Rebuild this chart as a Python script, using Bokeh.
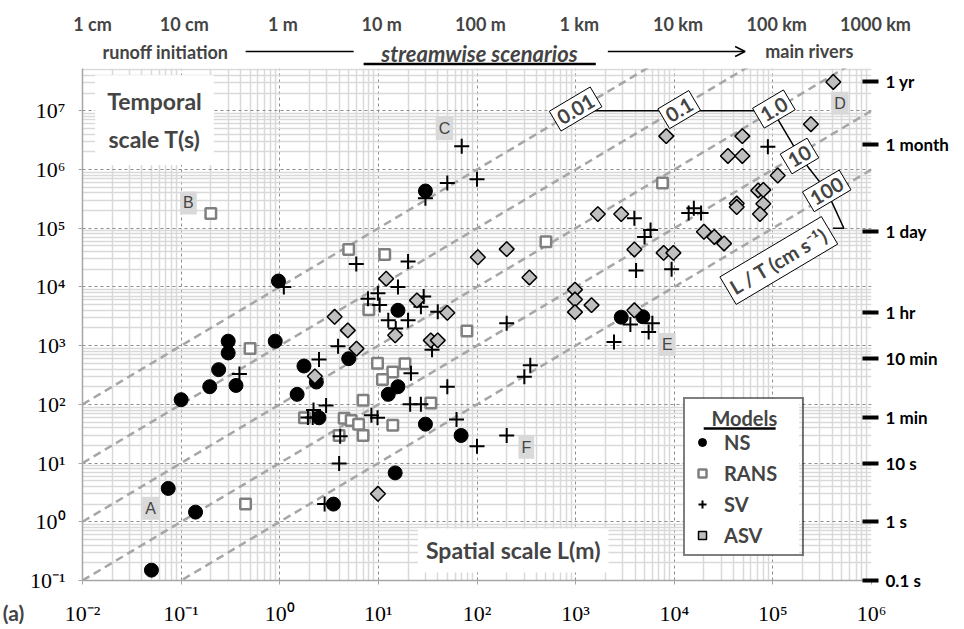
import numpy as np
from bokeh.plotting import figure
from bokeh.layouts import column, row
from bokeh.models import (FixedTicker, LogAxis, Label, Legend, LegendItem, Arrow,
                          OpenHead, Range1d)
from bokeh.embed import file_html
from bokeh.resources import INLINE

# ---------------- data (L in m, T in s) ----------------
ns_L = [0.05, 0.074, 0.14, 0.1, 0.195, 0.24, 0.30, 0.30, 0.36, 0.9, 0.97, 1.76, 1.5,
        2.35, 2.5, 3.5, 5.0, 15.8, 15.8, 12.6, 30, 69, 14.8, 30, 2900, 4800]
ns_T = [0.15, 3.7, 1.46, 120, 200, 390, 750, 1190, 210, 1190, 12600, 450, 148,
        240, 59, 2.0, 600, 4000, 200, 148, 46, 29.5, 6.8, 430000, 3050, 3100]

rans_L = [0.2, 0.5, 0.45, 1.78, 5.0, 11.6, 8.0, 79, 9.8, 14, 18.6, 11, 7, 34, 4.5,
          5.3, 6.3, 7, 4.0, 14, 500, 7600]
rans_T = [178000, 890, 2.0, 59, 43500, 35800, 4100, 1780, 500, 355, 490, 265, 118,
          105, 58, 53, 46, 29.5, 29.5, 44, 59000, 590000]

sv_L = [0.39, 2.5, 2.2, 1.93, 2.16, 2.95, 2.85, 1.1, 3.9, 5.97, 20, 15.8, 9.9, 7.85,
        10.3, 28.8, 27, 40, 12.6, 20, 15, 35, 21.4, 50, 21, 27, 62, 8.5, 9.8, 4.1,
        4.0, 100, 200, 302, 347, 2450, 70, 50, 100, 30, 200, 89000, 14000, 18700,
        15800, 3940, 5750, 5000, 4100, 9400, 3590, 6000, 5500]
sv_T = [330, 580, 80, 60, 60, 96, 2.0, 10000, 980, 24500, 27000, 10000, 7800, 6300,
        4900, 6900, 4600, 3760, 2700, 2700, 1960, 850, 340, 200, 100, 100, 55, 65,
        59, 28.5, 9.8, 19.3, 29.5, 295, 465, 1150, 2.5e6, 590000, 680000, 325000,
        2400, 2.45e6, 182000, 182000, 219000, 148000, 93000, 71000, 19000, 20000,
        2300, 2400, 1700]

asv_L = [2.27, 3.6, 12, 24.6, 50, 14.8, 4.9, 6, 34, 40, 102, 200, 340, 1680, 2900,
         985, 985, 985, 1450, 9.9, 410000, 243000, 49000, 35000, 49000, 8300,
         112000, 71000, 80000, 80000, 43000, 43000, 74000, 20000, 25500, 32000,
         3940, 7800, 9800, 3940]
asv_T = [300, 3100, 13800, 5900, 3620, 1500, 1820, 890, 1230, 1230, 32000, 44000,
         14500, 174000, 174000, 9000, 6100, 3720, 4900, 3.0, 3.1e7, 5.9e6, 3.7e6,
         1.7e6, 1.7e6, 3.7e6, 790000, 440000, 450000, 260000, 263000, 229000,
         174000, 87000, 71000, 55000, 43500, 38000, 38000, 4000]

# velocity reference lines L/T (cm/s)
speeds = [0.01, 0.1, 1.0, 10, 100]
speed_text = ["0.01", "0.1", "1.0", "10", "100"]

# axis ticks and labels
x_exp = list(range(-2, 7))
y_exp = list(range(-1, 8))
sup = str.maketrans("-0123456789", "⁻⁰¹²³⁴⁵⁶⁷⁸⁹")
top_labels = ["1 cm", "10 cm", "1 m", "10 m", "100 m", "1 km", "10 km", "100 km", "1000 km"]
time_ticks = [0.1, 1, 10, 60, 600, 3600, 86400, 2629800, 31557600]
time_labels = ["0.1 s", "1 s", "10 s", "1 min", "10 min", "1 hr", "1 day", "1 month", "1 yr"]

# annotation placements (log10 L, log10 T)
speed_pos = [(3.0, 7.03), (4.05, 7.02), (5.01, 7.03), (5.27, 6.23), (5.546, 5.636)]
lt_pos = (5.06, 4.45)
bracket_top = ([3.0, 5.0], [7.0, 7.0])
bracket_side = ([5.0, 5.27, 5.546, 5.72, 5.61], [7.0, 6.23, 5.636, 5.0, 5.0])
letters = ["A", "B", "C", "D", "E", "F"]
letter_pos = [(-1.31, 0.23), (-0.926, 5.43), (1.67, 6.70), (5.68, 7.13), (3.93, 3.02), (2.50, 1.27)]

# ---------------- layout constants (px) ----------------
FONT = "Lato"
W = 960
HDR_H = 68
BB = 48
FRAME_H = 512
MAIN_H = FRAME_H + BB
STRIP_W = 26
LB, RB = 55, 89
FRAME_L = STRIP_W + LB
FRAME_W = W - FRAME_L - RB
DEC = FRAME_W / 8.0
Y_TOP = 7.72
Y_BOT = -1.0
DEC_Y = FRAME_H / (Y_TOP - Y_BOT)
LEG_X, LEG_Y, LEG_W, LEG_H = 601, 24, 117, 159   # legend box (px from frame bottom-left)


def tk(k):
    return 10 ** k if k >= 0 else 10.0 ** k


def no_align(f):
    if "frame_align" in f.properties():
        f.frame_align = False


# ---------------- main plot ----------------
p = figure(width=W - STRIP_W, height=MAIN_H, x_axis_type="log", y_axis_type="log",
           x_range=Range1d(1e-2, 1e6), y_range=Range1d(10 ** Y_BOT, 10 ** Y_TOP),
           output_backend="svg", toolbar_location=None,
           min_border_left=LB, min_border_right=RB, min_border_top=0,
           min_border_bottom=BB)
p.outline_line_color = None
p.background_fill_color = "white"
no_align(p)

x_major = [tk(k) for k in x_exp]
x_minor = [m * 10.0 ** k for k in range(-2, 6) for m in range(2, 10)]
y_major = [tk(k) for k in y_exp]
y_minor = [m * 10.0 ** k for k in range(-1, 8) for m in range(2, 10)]
xt = FixedTicker(ticks=x_major, minor_ticks=x_minor)
yt = FixedTicker(ticks=y_major, minor_ticks=y_minor)

xa = p.xaxis[0]
ya = p.yaxis[0]
xa.ticker = xt
ya.ticker = yt
xa.major_label_overrides = {tk(k): "10" + str(k).translate(sup) for k in x_exp}
ya.major_label_overrides = {tk(k): "10" + str(k).translate(sup) for k in y_exp}
for ax in (xa, ya):
    ax.major_label_text_font = "Liberation Serif"
    ax.major_label_text_font_size = "22px"
    ax.major_label_text_color = "black"
    ax.axis_line_color = "#a6a6a6"
    ax.axis_line_width = 1.5
    ax.major_tick_line_color = "#a6a6a6"
    ax.major_tick_in = 0
    ax.major_tick_out = 4
    ax.minor_tick_line_color = None
xa.major_label_standoff = 16
ya.major_label_standoff = 13

for g, t in ((p.xgrid, xt), (p.ygrid, yt)):
    g.ticker = t
    g.grid_line_color = "#8c8c8c"
    g.grid_line_dash = "3 3"
    g.grid_line_width = 1
    g.minor_grid_line_color = "#d9d9d9"
    g.minor_grid_line_width = 1.5

ra = LogAxis(ticker=FixedTicker(ticks=time_ticks),
             major_label_overrides=dict(zip(time_ticks, time_labels)))
ra.axis_line_color = None
ra.minor_tick_line_color = None
ra.major_tick_line_color = "black"
ra.major_tick_line_width = 4
ra.major_tick_in = 9
ra.major_tick_out = 7
ra.major_label_standoff = 7
ra.major_label_text_font = FONT
ra.major_label_text_font_style = "bold"
ra.major_label_text_font_size = "17px"
ra.major_label_text_color = "black"
p.add_layout(ra, "right")

# velocity lines
Lline = np.array([1e-2, 1e6])
for v in speeds:
    p.line(Lline, 100.0 * Lline / v, line_dash="8 5", line_color="#a6a6a6", line_width=2.5)

# bracket for velocity labels
p.line([10 ** a for a in bracket_top[0]], [10 ** a for a in bracket_top[1]],
       line_color="black", line_width=1.5)
p.line([10 ** a for a in bracket_side[0]], [10 ** a for a in bracket_side[1]],
       line_color="black", line_width=1.5)

# white backing of the legend box and underline of its title (drawn beneath the legend)
leg_cx = 10 ** (-2 + (LEG_X + LEG_W / 2) / DEC)
leg_cy = 10 ** (Y_BOT + (LEG_Y + LEG_H / 2) / DEC_Y)
p.rect(x=[leg_cx], y=[leg_cy], width=[LEG_W - 1], height=[LEG_H - 2],
       width_units="screen", height_units="screen", fill_color="white", line_color=None)
ul_y = 10 ** (Y_BOT + (LEG_Y + LEG_H - 31) / DEC_Y)
p.line([10 ** (-2 + (LEG_X + 21) / DEC), 10 ** (-2 + (LEG_X + 93) / DEC)], [ul_y, ul_y],
       line_color="black", line_width=2.5)

# data
r_ns = p.scatter(ns_L, ns_T, marker="circle", size=14, fill_color="black", line_color="black")
r_rans = p.scatter(rans_L, rans_T, marker="square", size=10.5, fill_color="white",
                   line_color="#808080", line_width=2.5)
r_sv = p.scatter(sv_L, sv_T, marker="cross", size=15, line_color="black", line_width=2)
r_asv = p.scatter(asv_L, asv_T, marker="square", angle=np.pi / 4, size=10.5,
                  fill_color="#bfbfbf", line_color="black", line_width=1.5)

# velocity labels
ANG = 0.536
for txt, (lx, ly) in zip(speed_text, speed_pos):
    p.add_layout(Label(x=10 ** lx, y=10 ** ly, text=txt, angle=ANG, text_align="center",
                       text_baseline="middle", text_font=FONT, text_font_style="bold",
                       text_font_size="20px", background_fill_color="white",
                       border_line_color="black", border_line_width=1, padding=4))
p.add_layout(Label(x=10 ** lt_pos[0], y=10 ** lt_pos[1], text="L / T (cm s⁻¹)", angle=ANG,
                   text_align="center", text_baseline="middle", text_font=FONT,
                   text_font_style="bold", text_font_size="20px",
                   background_fill_color="white", border_line_color="black",
                   border_line_width=1, padding=4))

# letter markers
for t, (lx, ly) in zip(letters, letter_pos):
    p.add_layout(Label(x=10 ** lx, y=10 ** ly, text=t, text_align="center",
                       text_baseline="middle", text_font="Liberation Sans",
                       text_font_size="16px", background_fill_color="#d9d9d9", padding=3))

# axis titles inside plot
p.add_layout(Label(x=10 ** -1.27, y=10 ** 6.84, text="Temporal\nscale T(s)",
                   text_align="center", text_baseline="middle", text_font=FONT,
                   text_font_style="bold", text_font_size="23px", text_line_height=1.35,
                   background_fill_color="white", padding=12))
p.add_layout(Label(x=10 ** 2.367, y=10 ** -0.488, text="Spatial scale L(m)",
                   text_align="center", text_baseline="middle", text_font=FONT,
                   text_font_style="bold", text_font_size="23px",
                   background_fill_color="white", padding=8))

# legend (transparent fill; white backing drawn above)
legend = Legend(items=[LegendItem(label="NS", renderers=[r_ns]),
                       LegendItem(label="RANS", renderers=[r_rans]),
                       LegendItem(label="SV", renderers=[r_sv]),
                       LegendItem(label="ASV", renderers=[r_asv])],
                title="\u00a0\u00a0\u00a0\u00a0Models", location=(LEG_X, LEG_Y))
legend.border_line_color = "black"
legend.border_line_width = 2
legend.background_fill_alpha = 0
legend.padding = 7
legend.spacing = 7
legend.label_height = 22
legend.glyph_height = 22
legend.glyph_width = 20
legend.label_standoff = 12
legend.label_width = 71
legend.label_text_font = FONT
legend.label_text_font_size = "20px"
legend.label_text_font_style = "bold"
legend.title_text_font = FONT
legend.title_text_font_size = "20px"
legend.title_text_font_style = "bold"
legend.title_standoff = 0
p.add_layout(legend)

# ---------------- header (same horizontal log scale, frame spans full width) --------
x0 = 10 ** (-2 - FRAME_L / DEC)
x1 = 10 ** (6 + RB / DEC)
hdr = figure(width=W, height=HDR_H, x_axis_type="log", x_range=Range1d(x0, x1),
             y_range=Range1d(HDR_H, 0), x_axis_location=None, y_axis_location=None,
             output_backend="svg", toolbar_location=None, min_border=0,
             min_border_left=0, min_border_right=0, min_border_top=0, min_border_bottom=0)
hdr.outline_line_color = None
hdr.grid.visible = False
no_align(hdr)
for k, t in zip(x_exp, top_labels):
    hdr.add_layout(Label(x=tk(k), y=23.5, text=t, text_align="center",
                         text_baseline="middle", text_font=FONT, text_font_style="bold",
                         text_font_size="18px", x_offset=(11 if k == -2 else 4)))
hdr.add_layout(Label(x=10 ** -1.15, y=51, text="runoff initiation", text_align="center",
                     text_baseline="middle", text_font=FONT, text_font_style="bold",
                     text_font_size="18px"))
hdr.add_layout(Label(x=10 ** 2.03, y=52.5, text="streamwise scenarios", text_align="center",
                     text_baseline="middle", text_font=FONT, text_font_style="bold italic",
                     text_font_size="22px"))
hdr.add_layout(Label(x=10 ** 5.37, y=50, text="main rivers", text_align="center",
                     text_baseline="middle", text_font=FONT, text_font_style="bold",
                     text_font_size="18px"))
hdr.add_layout(Arrow(end=None, x_start=10 ** -0.338, y_start=51, x_end=10 ** 0.756,
                     y_end=51, line_width=1.5, line_color="black"))
hdr.add_layout(Arrow(end=OpenHead(size=10, line_width=1.5), x_start=10 ** 3.33, y_start=51,
                     x_end=10 ** 4.72, y_end=51, line_width=1.5, line_color="black"))
hdr.add_layout(Arrow(end=None, x_start=10 ** 0.857, y_start=63.5, x_end=10 ** 3.208,
                     y_end=63.5, line_width=2.5, line_color="black"))

# ---------------- left strip with panel letter ----------------
strip = figure(width=STRIP_W, height=MAIN_H, x_range=Range1d(0, STRIP_W),
               y_range=Range1d(MAIN_H, 0), x_axis_location=None, y_axis_location=None,
               output_backend="svg", toolbar_location=None, min_border=0,
               min_border_left=0, min_border_right=0, min_border_top=0, min_border_bottom=0)
strip.outline_line_color = None
strip.grid.visible = False
no_align(strip)
strip.add_layout(Label(x=13, y=544, text="(a)", text_align="center", text_baseline="middle",
                       text_font=FONT, text_font_style="bold", text_font_size="21px"))

layout = column(hdr, row(strip, p, spacing=0), spacing=0)
open("out.html", "w").write(file_html(layout, INLINE))
